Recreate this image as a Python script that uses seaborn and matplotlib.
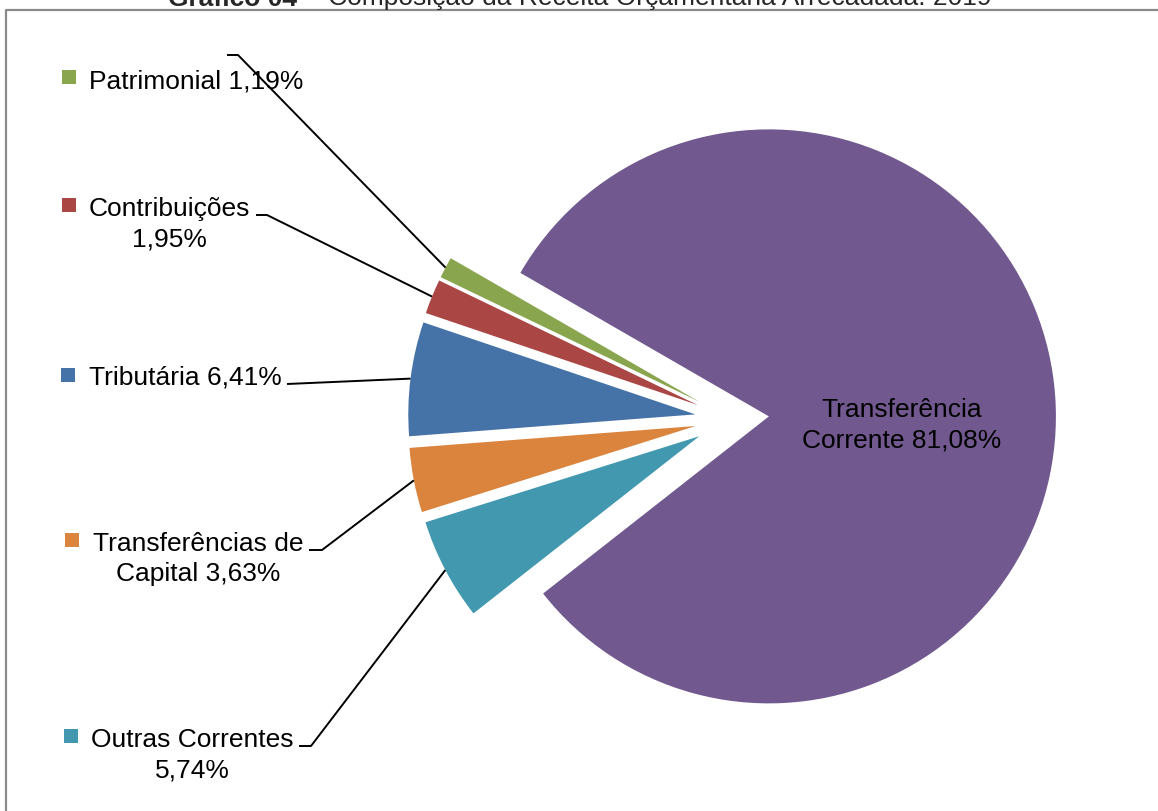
import textwrap
import numpy as np
import matplotlib
matplotlib.use("Agg")
import matplotlib.pyplot as plt
import seaborn as sns

# dados do gráfico (percentuais da receita arrecadada em 2019)
categorias = ["Patrimonial", "Contribuições", "Tributária",
              "Transferências de Capital", "Outras Correntes",
              "Transferência Corrente"]
percentuais = [1.19, 1.95, 6.41, 3.63, 5.74, 81.08]
titulo_negrito = "Gráfico 04"
titulo_resto = "– Composição da Receita Orçamentária Arrecadada: 2019"

cores = sns.color_palette(["#89A54E", "#AA4643", "#4572A7",
                           "#DB843D", "#4198AF", "#71588F"])

# layout (em pixels, origem no topo à esquerda)
W, H = 1158, 812
centro = (732, 420)
raio = 287
afastamento = 37
quebra = [30, 14, 30, 17, 16, 15]
pos_texto = [(196, 88), (169, 216), (185, 385), (198, 551), (192, 747), (902, 417)]
pos_marcador = [(69, 78), (69, 206), (68, 376), (72, 541), (71, 737), None]
guia = [[(227, 56), (238, 56)], [(256, 216), (267, 216)], [(287, 385)],
        [(309, 551), (322, 551)], [(299, 747), (311, 747)], None]
entre_linhas = 30.5

sns.set_theme(style="white")
plt.rcParams["font.family"] = ["Liberation Sans", "DejaVu Sans"]

fig = plt.figure(figsize=(W / 100, H / 100), dpi=100)
ax = fig.add_axes([0, 0, 1, 1])


def py(y):
    return H - y


wedges, _ = ax.pie(percentuais, colors=cores, startangle=150, counterclock=True,
                   explode=[afastamento] * len(percentuais), radius=raio,
                   center=(centro[0], py(centro[1])), frame=True,
                   wedgeprops=dict(linewidth=0))
ax.set_xlim(0, W)
ax.set_ylim(0, H)
ax.set_aspect("equal")
ax.axis("off")

for i, (cat, pct) in enumerate(zip(categorias, percentuais)):
    rotulo = f"{cat} {pct:.2f}%".replace(".", ",")
    linhas = textwrap.wrap(rotulo, width=quebra[i])
    x0, y0 = pos_texto[i]
    for k, linha in enumerate(linhas):
        ax.text(x0, py(y0 + k * entre_linhas), linha, ha="center", va="baseline",
                fontsize=19, color="black")
    if pos_marcador[i] is not None:
        mx, my = pos_marcador[i]
        ax.scatter([mx], [py(my)], marker="s", s=100, color=cores[i],
                   edgecolors="none", zorder=5)
    if guia[i] is not None:
        w = wedges[i]
        tm = np.deg2rad((w.theta1 + w.theta2) / 2)
        fim = (w.center[0] + w.r * np.cos(tm), w.center[1] + w.r * np.sin(tm))
        xs = [p[0] for p in guia[i]] + [fim[0]]
        ys = [py(p[1]) for p in guia[i]] + [fim[1]]
        ax.plot(xs, ys, color="black", lw=1.4, solid_capstyle="butt")

# moldura do gráfico
ax.plot([5.5, 5.5, W + 5], [py(H + 5), py(11), py(11)], color="#8A8A8A",
        lw=1.6, clip_on=False)

# título (parcialmente cortado no topo)
ax.text(297, py(5.5), titulo_negrito, ha="right", va="baseline",
        fontsize=19, fontweight="bold", clip_on=False)
ax.text(306, py(5.5), titulo_resto, ha="left", va="baseline",
        fontsize=19, clip_on=False)

fig.savefig("out.png", dpi=100)
